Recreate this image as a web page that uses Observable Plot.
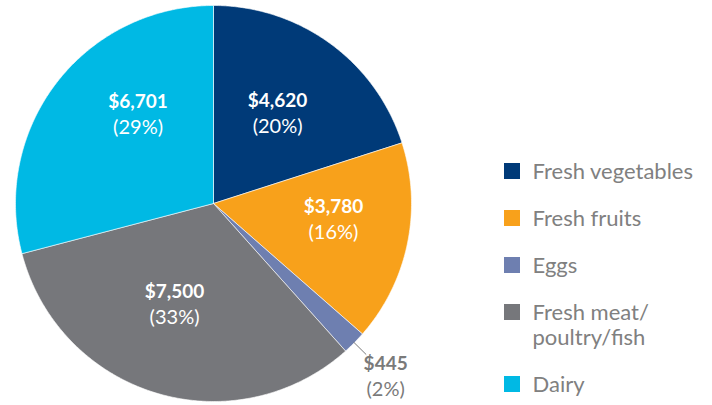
<!DOCTYPE html>
<html><head><meta charset="utf-8">
<script src="https://cdn.jsdelivr.net/npm/d3@7"></script>
<script src="https://cdn.jsdelivr.net/npm/@observablehq/plot@0.6"></script>
<style>html,body{margin:0;padding:0;background:#fff}</style>
</head><body><div id="chart"></div>
<script>
// ---- data ----
const categories = ["Fresh vegetables", "Fresh fruits", "Eggs", "Fresh meat/poultry/fish", "Dairy"];
const values = [4620, 3780, 445, 7500, 6701];
const valueLabels = ["$4,620", "$3,780", "$445", "$7,500", "$6,701"];
const percentLabels = ["(20%)", "(16%)", "(2%)", "(33%)", "(29%)"];
const legendLabels = ["Fresh vegetables", "Fresh fruits", "Eggs", "Fresh meat/\npoultry/fish", "Dairy"];
const colors = ["#003a78", "#f8a11b", "#6e7fb0", "#76777b", "#00b9e4"];

// ---- layout ----
const W = 712, H = 405;
const cx = 213, cy = 203, R = 198;
// label placement: angle (deg, clockwise from top) and radius as fraction of R
const labelAngle = {"Fresh vegetables": 35.6, "Fresh fruits": 97.6, "Eggs": 135.2, "Fresh meat/poultry/fish": 201, "Dairy": 319.7};
const labelRadius = {"Fresh vegetables": 0.556, "Fresh fruits": 0.611, "Eggs": 1.234, "Fresh meat/poultry/fish": 0.549, "Dairy": 0.589};
const outside = new Set(["Eggs"]);
const legendX = 504, legendTextX = 532, legendY0 = 171, legendStep = 47, legendLine = 25;
const font = "Lato, 'Open Sans', sans-serif";

const data = categories.map((c, i) => ({category: c, value: values[i], vLabel: valueLabels[i], pLabel: percentLabels[i], legend: legendLabels[i]}));
const arcs = d3.pie().sort(null).value(d => d.value)(data);

const px = (a, r) => cx + r * Math.sin(a);
const py = (a, r) => cy - r * Math.cos(a);

// slice outlines sampled along the arcs
const slicePts = arcs.flatMap(a => {
  const n = Math.max(2, Math.ceil((a.endAngle - a.startAngle) / (Math.PI / 360)));
  const pts = [{category: a.data.category, x: cx, y: cy}];
  for (let k = 0; k <= n; k++) {
    const t = a.startAngle + (a.endAngle - a.startAngle) * k / n;
    pts.push({category: a.data.category, x: px(t, R), y: py(t, R)});
  }
  pts.push({category: a.data.category, x: cx, y: cy});
  return pts;
});

const labels = data.map(d => {
  const a = labelAngle[d.category] * Math.PI / 180, r = labelRadius[d.category] * R;
  return {...d, x: px(a, r), y: py(a, r)};
});
const inside = labels.filter(d => !outside.has(d.category));
const outer = labels.filter(d => outside.has(d.category));
const leaders = arcs.filter(a => outside.has(a.data.category)).map(a => {
  const m = (a.startAngle + a.endAngle) / 2;
  return {x1: px(m, R * 0.995), y1: py(m, R * 0.995), x2: px(m, R * 1.085), y2: py(m, R * 1.085)};
});

let yy = legendY0;
const rows = data.map(d => {
  const lines = d.legend.split("\n");
  const r = {category: d.category, y: yy, lines};
  yy += legendStep + legendLine * (lines.length - 1);
  return r;
});
const legendLines = rows.flatMap(r => r.lines.map((t, j) => ({text: t, y: r.y + j * legendLine})));

const chart = Plot.plot({
  width: W, height: H,
  margin: 0,
  x: {domain: [0, W], range: [0, W], axis: null},
  y: {domain: [0, H], range: [0, H], axis: null},
  color: {domain: categories, range: colors},
  style: {background: "#fff", fontFamily: font},
  marks: [
    Plot.line(slicePts, {x: "x", y: "y", z: "category", fill: "category", stroke: "#fff", strokeWidth: 0.6, curve: "linear"}),
    Plot.link(leaders, {x1: "x1", y1: "y1", x2: "x2", y2: "y2", stroke: "#7a7a7a", strokeWidth: 1}),
    Plot.text(inside, {x: "x", y: "y", text: "vLabel", dy: -13, fill: "#fff", fontWeight: "bold", fontSize: 19, fontFamily: font}),
    Plot.text(inside, {x: "x", y: "y", text: "pLabel", dy: 13, fill: "#fff", fontWeight: "normal", fontSize: 20, fontFamily: font}),
    Plot.text(outer, {x: "x", y: "y", text: "vLabel", dy: -13, fill: "#7a7a7a", fontWeight: "bold", fontSize: 19, fontFamily: font}),
    Plot.text(outer, {x: "x", y: "y", text: "pLabel", dy: 13, fill: "#7a7a7a", fontWeight: "normal", fontSize: 20, fontFamily: font}),
    Plot.rect(rows, {x1: legendX, x2: legendX + 16, y1: r => r.y - 8, y2: r => r.y + 8, fill: "category"}),
    Plot.text(legendLines, {x: legendTextX, y: "y", text: "text", textAnchor: "start", fill: "#808080", fontSize: 22, fontFamily: font})
  ]
});
document.getElementById("chart").append(chart);
</script>
</body></html>
